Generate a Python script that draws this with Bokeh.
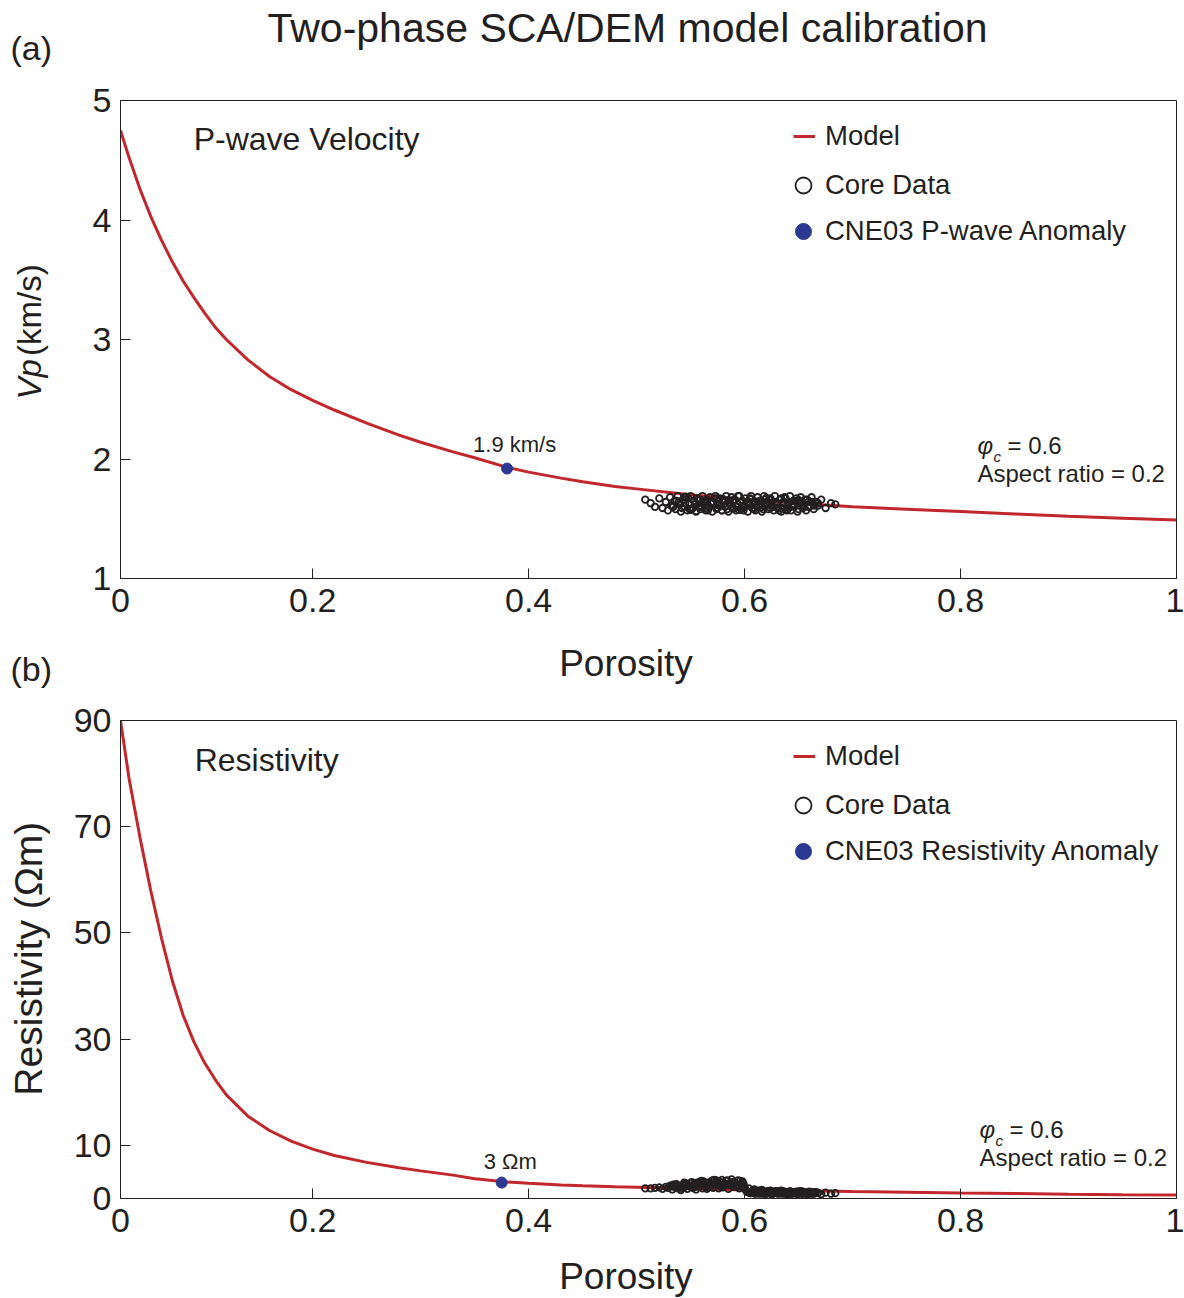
import numpy as np
from bokeh.plotting import figure
from bokeh.models import Legend, LegendItem, Label, FixedTicker, Range1d
from bokeh.layouts import column, row
from bokeh.embed import file_html
from bokeh.resources import INLINE

FONT = "Liberation Sans"
RED = "#C1272D"
BLUE = "#2B3990"
INK = "#231F20"

# ---------------- data ----------------
x_ticks = [0.022, 0.2, 0.4, 0.6, 0.8, 1.0]
x_tick_labels = ["0", "0.2", "0.4", "0.6", "0.8", "1"]
vp_ticks = [1, 2, 3, 4, 5]
res_ticks = [0, 10, 30, 50, 70, 90]

model_porosity = [0.022, 0.03, 0.04, 0.05, 0.06, 0.07, 0.08, 0.09, 0.10, 0.11,
                  0.12, 0.14, 0.16, 0.18, 0.20, 0.22, 0.25, 0.28, 0.30, 0.33,
                  0.35, 0.38, 0.40, 0.43, 0.45, 0.48, 0.50, 0.55, 0.60, 0.65,
                  0.70, 0.75, 0.80, 0.85, 0.90, 0.95, 1.00]
model_vp = [4.75, 4.52, 4.26, 4.03, 3.83, 3.65, 3.49, 3.35, 3.22, 3.10,
            3.00, 2.83, 2.69, 2.58, 2.49, 2.41, 2.30, 2.20, 2.14, 2.06,
            2.01, 1.93, 1.89, 1.84, 1.81, 1.77, 1.75, 1.70, 1.66, 1.63,
            1.60, 1.58, 1.56, 1.54, 1.52, 1.505, 1.49]
model_res = [90.0, 79.0, 68.0, 58.0, 49.0, 41.0, 34.5, 29.5, 25.5, 22.3,
             19.5, 15.5, 12.8, 10.8, 9.3, 8.1, 6.8, 5.8, 5.2, 4.4,
             3.7, 3.1, 2.85, 2.55, 2.4, 2.2, 2.1, 1.85, 1.6, 1.45,
             1.3, 1.18, 1.05, 0.95, 0.8, 0.72, 0.65]

core_porosity_a = [
    0.508, 0.513, 0.517, 0.521, 0.524, 0.527, 0.529, 0.531, 0.533, 0.535,
    0.536, 0.538, 0.540, 0.541, 0.543, 0.544, 0.546, 0.547, 0.549, 0.550,
    0.552, 0.553, 0.555, 0.556, 0.558, 0.559, 0.561, 0.562, 0.564, 0.565,
    0.567, 0.568, 0.570, 0.571, 0.573, 0.574, 0.576, 0.577, 0.579, 0.580,
    0.582, 0.583, 0.585, 0.586, 0.588, 0.589, 0.591, 0.592, 0.594, 0.595,
    0.597, 0.598, 0.600, 0.601, 0.603, 0.604, 0.606, 0.607, 0.609, 0.610,
    0.612, 0.613, 0.615, 0.616, 0.618, 0.619, 0.621, 0.622, 0.624, 0.625,
    0.627, 0.628, 0.630, 0.631, 0.633, 0.634, 0.636, 0.637, 0.639, 0.640,
    0.642, 0.643, 0.645, 0.646, 0.648, 0.649, 0.651, 0.652, 0.654, 0.655,
    0.657, 0.658, 0.660, 0.662, 0.664, 0.666, 0.668, 0.671, 0.675, 0.680,
    0.684]
core_porosity_b = [
    0.532, 0.537, 0.542, 0.545, 0.548, 0.551, 0.554, 0.557, 0.560, 0.563,
    0.566, 0.569, 0.572, 0.575, 0.578, 0.581, 0.584, 0.587, 0.590, 0.593,
    0.596, 0.599, 0.602, 0.605, 0.608, 0.611, 0.614, 0.617, 0.620, 0.623,
    0.626, 0.629, 0.632, 0.635, 0.638, 0.641, 0.644, 0.647, 0.650, 0.653,
    0.656, 0.659, 0.662, 0.665, 0.668]
core_porosity_c = [
    0.534, 0.539, 0.544, 0.549, 0.554, 0.559, 0.564, 0.569, 0.574, 0.579,
    0.584, 0.589, 0.594, 0.599, 0.604, 0.609, 0.614, 0.619, 0.624, 0.629,
    0.634, 0.639, 0.644, 0.649, 0.654, 0.659, 0.664,
    0.550, 0.560, 0.570, 0.580, 0.590, 0.600, 0.610, 0.620, 0.630, 0.640,
    0.650, 0.660,
    0.545, 0.555, 0.565, 0.575, 0.585, 0.595, 0.605, 0.615, 0.625, 0.635,
    0.645]

core_vp_a = [
    1.66, 1.63, 1.60, 1.67, 1.59, 1.64, 1.57, 1.68, 1.61, 1.65,
    1.58, 1.69, 1.62, 1.56, 1.66, 1.60, 1.68, 1.57, 1.63, 1.69,
    1.59, 1.65, 1.56, 1.67, 1.61, 1.58, 1.69, 1.63, 1.57, 1.66,
    1.60, 1.68, 1.56, 1.64, 1.69, 1.58, 1.62, 1.67, 1.57, 1.65,
    1.60, 1.69, 1.56, 1.63, 1.68, 1.59, 1.66, 1.57, 1.62, 1.69,
    1.58, 1.65, 1.60, 1.67, 1.56, 1.64, 1.69, 1.59, 1.62, 1.57,
    1.68, 1.61, 1.65, 1.56, 1.69, 1.60, 1.63, 1.58, 1.67, 1.61,
    1.57, 1.69, 1.62, 1.59, 1.66, 1.56, 1.64, 1.68, 1.58, 1.61,
    1.69, 1.57, 1.65, 1.60, 1.67, 1.56, 1.63, 1.68, 1.59, 1.62,
    1.57, 1.66, 1.60, 1.68, 1.58, 1.64, 1.61, 1.66, 1.59, 1.63,
    1.62]
core_vp_b = [
    1.61, 1.65, 1.59, 1.63, 1.67, 1.58, 1.62, 1.66, 1.60, 1.64,
    1.57, 1.63, 1.67, 1.59, 1.61, 1.65, 1.58, 1.62, 1.66, 1.60,
    1.64, 1.57, 1.63, 1.67, 1.59, 1.61, 1.65, 1.58, 1.62, 1.66,
    1.60, 1.64, 1.57, 1.63, 1.67, 1.59, 1.61, 1.65, 1.58, 1.62,
    1.66, 1.60, 1.64, 1.61, 1.63]
core_vp_c = [
    1.60, 1.64, 1.68, 1.58, 1.62, 1.66, 1.59, 1.63, 1.67, 1.57,
    1.61, 1.65, 1.69, 1.60, 1.64, 1.58, 1.62, 1.66, 1.59, 1.63,
    1.67, 1.57, 1.61, 1.65, 1.60, 1.64, 1.62,
    1.575, 1.605, 1.635, 1.665, 1.585, 1.615, 1.645, 1.675, 1.595, 1.625,
    1.655, 1.605,
    1.685, 1.565, 1.645, 1.615, 1.655, 1.575, 1.665, 1.595, 1.635, 1.585,
    1.625]

core_res_a = [
    1.9, 1.9, 2.0, 2.1, 1.8, 2.2,
    2.0, 2.4, 1.7, 2.2, 2.6, 1.9, 2.3, 1.6, 2.5, 2.1,
    2.8, 1.8, 2.4, 2.9, 2.0, 2.6, 1.7, 3.0, 2.2, 2.7,
    1.9, 3.2, 2.3, 1.8, 2.9, 2.5, 3.4, 2.0, 2.7, 3.1,
    1.9, 2.4, 3.5, 2.1, 2.8, 3.3, 1.8, 2.6, 3.6, 2.2,
    3.0, 2.5, 3.4, 1.9, 2.7, 3.2, 2.1,
    1.6, 1.2, 1.9, 1.0, 1.4, 1.7, 0.9, 1.3, 1.5, 1.1,
    1.6, 0.9, 1.2, 1.4, 1.0, 1.5, 0.8, 1.3, 1.1, 1.4,
    0.9, 1.2, 1.5, 1.0, 1.3, 0.8, 1.1, 1.4, 0.9, 1.2,
    1.0, 1.3, 0.8, 1.1, 1.4, 0.9, 1.2, 1.0, 0.8, 1.3,
    1.1, 0.9, 1.2, 1.0, 0.8, 1.1, 0.9, 1.0]
core_res_b = [
    2.3, 2.7, 2.0, 2.9, 2.4, 3.1, 2.2, 2.8, 3.3, 2.5,
    3.0, 2.3, 3.5, 2.7, 3.1, 2.4, 3.4, 2.6, 3.0, 2.2,
    3.3, 2.8,
    1.3, 1.0, 1.5, 1.2, 0.9, 1.4, 1.1, 1.3, 0.9, 1.2,
    1.0, 1.4, 1.1, 0.9, 1.2, 1.0, 1.3, 0.9, 1.1, 1.2,
    0.9, 1.0, 1.1]
core_res_c = [
    2.6, 2.1, 3.0, 2.4, 2.8, 3.2, 2.5, 2.9, 3.4, 2.3, 2.7, 3.1, 2.6, 2.2,
    1.2, 1.0, 1.3, 0.9, 1.1, 1.4, 1.0, 1.2, 0.9, 1.1, 1.3, 1.0, 1.2,
    2.2, 2.8, 3.3, 2.6, 3.0, 1.9,
    1.1, 0.9, 1.2, 1.0, 1.3, 1.1,
    2.5, 2.9, 2.1, 3.2, 2.7, 2.4,
    1.2, 1.0, 1.3, 0.9, 1.1]

core_porosity = core_porosity_a + core_porosity_b + core_porosity_c
core_vp = core_vp_a + core_vp_b + core_vp_c
core_res = core_res_a + core_res_b + core_res_c

anomaly_vp_porosity = [0.38]
anomaly_vp = [1.92]
anomaly_res_porosity = [0.375]
anomaly_res = [3.0]


# ---------------- helpers ----------------
def text_fig(width, height, y_top, y_bottom):
    """A figure whose frame fills it; coordinates are page pixels."""
    f = figure(width=width, height=height, x_range=Range1d(0, width),
               y_range=Range1d(y_bottom, y_top), x_axis_location=None,
               y_axis_location=None, output_backend="svg",
               toolbar_location=None, min_border=0)
    f.outline_line_color = None
    f.grid.visible = False
    f.background_fill_color = "white"
    f.border_fill_color = "white"
    return f


def lab(p, x, y, text, size, align="left", baseline="middle", style="normal",
        angle=0.0):
    p.add_layout(Label(x=x, y=y, text=text, text_font=FONT,
                       text_font_size=size, text_align=align,
                       text_baseline=baseline, text_font_style=style,
                       text_color=INK, angle=angle))


def style_axes(p, y_ticks):
    p.grid.visible = False
    p.outline_line_color = INK
    p.outline_line_width = 1
    p.background_fill_color = "white"
    p.border_fill_color = "white"
    for ax in (p.xaxis[0], p.yaxis[0]):
        ax.major_tick_in = 10
        ax.major_tick_out = 0
        ax.minor_tick_in = 0
        ax.minor_tick_out = 0
        ax.axis_line_color = INK
        ax.major_tick_line_color = INK
        ax.major_label_text_font = FONT
        ax.major_label_text_font_size = "34px"
        ax.major_label_text_color = INK
    p.xaxis.ticker = FixedTicker(ticks=x_ticks)
    p.xaxis.major_label_overrides = dict(zip(x_ticks, x_tick_labels))
    p.xaxis.major_label_standoff = 10
    p.yaxis.ticker = FixedTicker(ticks=y_ticks)
    p.yaxis.major_label_standoff = 9


def add_legends(p, r_model, r_core, r_anom, anom_text):
    leg1 = Legend(items=[LegendItem(label="Model", renderers=[r_model])],
                  location=(673, 426), glyph_width=22, glyph_height=22,
                  label_standoff=10, padding=0, margin=0, spacing=0,
                  border_line_color=None, background_fill_alpha=0,
                  label_text_font=FONT, label_text_font_size="27.5px",
                  label_text_color=INK)
    leg2 = Legend(items=[LegendItem(label="Core Data", renderers=[r_core]),
                         LegendItem(label=anom_text, renderers=[r_anom])],
                  location=(663, 327), glyph_width=40, glyph_height=40,
                  label_standoff=2, padding=0, margin=0, spacing=6,
                  border_line_color=None, background_fill_alpha=0,
                  label_text_font=FONT, label_text_font_size="27.5px",
                  label_text_color=INK)
    p.add_layout(leg1)
    p.add_layout(leg2)


# ---------------- header (title, "(a)") ----------------
header = text_fig(1184, 80, 0, 80)
lab(header, 627, 27, "Two-phase SCA/DEM model calibration", "41px", align="center")
lab(header, 10, 47, "(a)", "34px")

# ---------------- panel (a) ----------------
ylab1 = text_fig(50, 552, 80, 632)
lab(ylab1, 29, 402, "Vp", "33px", align="center", style="italic", angle=np.pi / 2)
lab(ylab1, 29, 322, "(km/s)", "33px", align="center", angle=np.pi / 2)

p1 = figure(width=1134, height=552, x_range=Range1d(0.022, 1.0),
            y_range=Range1d(1, 5), output_backend="svg", toolbar_location=None,
            min_border_left=70, min_border_right=8, min_border_top=20,
            min_border_bottom=54)
style_axes(p1, vp_ticks)

r_model1 = p1.line(model_porosity, model_vp, line_color=RED, line_width=3)
r_core1 = p1.scatter(core_porosity, core_vp, marker="circle", size=6.5,
                     fill_color=None, line_color=INK, line_width=1.8)
r_anom1 = p1.scatter(anomaly_vp_porosity, anomaly_vp, marker="circle", size=11,
                     fill_color=BLUE, line_color=BLUE)
add_legends(p1, r_model1, r_core1, r_anom1, "CNE03 P-wave Anomaly")

lab(p1, 0.0898, 4.682, "P-wave Velocity", "32px")
lab(p1, 0.387, 2.121, "1.9 km/s", "22px", align="center")
lab(p1, 0.8157, 2.113, "φ", "24px", style="italic")
lab(p1, 0.8305, 2.02, "c", "15px", style="italic")
lab(p1, 0.8435, 2.113, "= 0.6", "24px")
lab(p1, 0.8157, 1.879, "Aspect ratio = 0.2", "24px")

# ---------------- separator ("Porosity" of (a), "(b)") ----------------
sep = text_fig(1184, 58, 632, 690)
lab(sep, 625.5, 663, "Porosity", "37px", align="center")
lab(sep, 10, 668, "(b)", "34px")

# ---------------- panel (b) ----------------
ylab2 = text_fig(50, 558, 690, 1248)
lab(ylab2, 28, 968, "Resistivity (Ωm)", "39px", align="center", angle=np.pi / 2)

p2 = figure(width=1134, height=558, x_range=Range1d(0.022, 1.0),
            y_range=Range1d(0, 90), output_backend="svg", toolbar_location=None,
            min_border_left=70, min_border_right=8, min_border_top=30,
            min_border_bottom=50)
style_axes(p2, res_ticks)

r_model2 = p2.line(model_porosity, model_res, line_color=RED, line_width=3)
r_core2 = p2.scatter(core_porosity, core_res, marker="circle", size=6.5,
                     fill_color=None, line_color=INK, line_width=1.8)
r_anom2 = p2.scatter(anomaly_res_porosity, anomaly_res, marker="circle", size=11,
                     fill_color=BLUE, line_color=BLUE)
add_legends(p2, r_model2, r_core2, r_anom2, "CNE03 Resistivity Anomaly")

lab(p2, 0.0907, 82.6, "Resistivity", "32px")
lab(p2, 0.383, 6.98, "3 Ωm", "22px", align="center")
lab(p2, 0.8176, 13.0, "φ", "24px", style="italic")
lab(p2, 0.8324, 11.0, "c", "15px", style="italic")
lab(p2, 0.8454, 13.0, "= 0.6", "24px")
lab(p2, 0.8176, 7.74, "Aspect ratio = 0.2", "24px")

# ---------------- footer ("Porosity" of (b)) ----------------
footer = text_fig(1184, 50, 1248, 1298)
lab(footer, 625.5, 1276, "Porosity", "37px", align="center")

layout = column(header, row(ylab1, p1, spacing=0), sep,
                row(ylab2, p2, spacing=0), footer, spacing=0)
open("out.html", "w").write(file_html(layout, INLINE))
